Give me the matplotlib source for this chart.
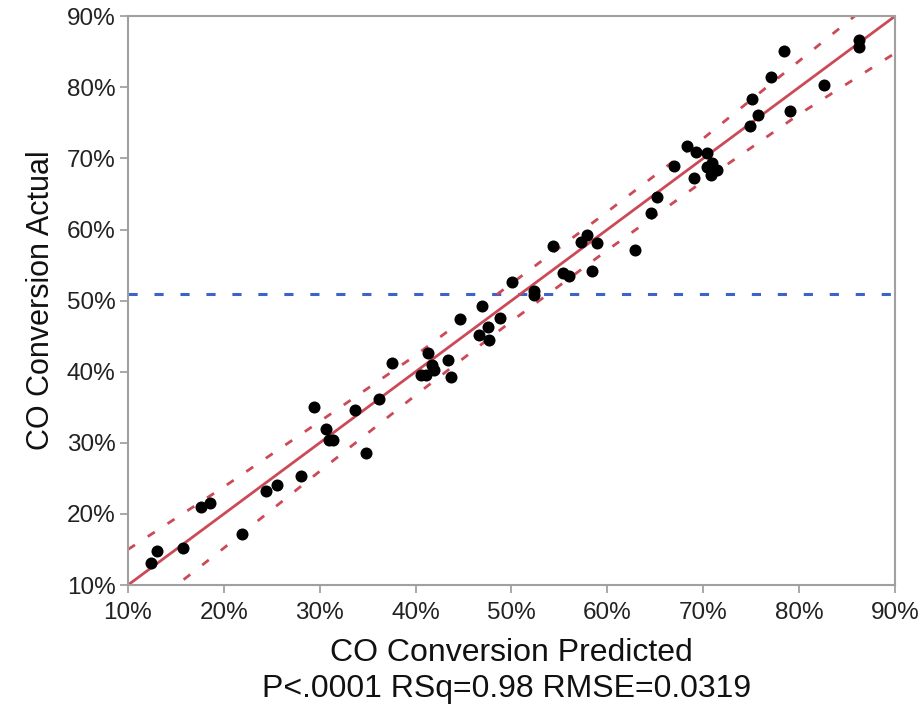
import matplotlib
matplotlib.use("Agg")
import matplotlib.pyplot as plt
from matplotlib.ticker import FuncFormatter

# Points (en %)
predicted = [12.4, 13.0, 15.7, 17.6, 18.6, 21.9, 24.4, 25.5, 28.0, 29.4,
             30.7, 31.0, 31.4, 33.7, 34.8, 36.2, 37.5, 40.6, 41.1, 41.3,
             41.7, 41.9, 43.4, 43.7, 44.6, 46.6, 46.9, 47.6, 47.7, 48.8,
             50.1, 52.3, 52.4, 54.3, 55.4, 56.0, 57.3, 57.9, 58.4, 58.9,
             62.9, 64.6, 65.2, 67.0, 68.3, 69.0, 69.2, 70.4, 70.4, 70.8,
             70.9, 71.4, 74.9, 75.1, 75.7, 77.1, 78.4, 79.0, 82.6, 86.2,
             86.2]
actual = [13.1, 14.8, 15.2, 21.0, 21.5, 17.2, 23.2, 24.1, 25.4, 35.1,
          32.0, 30.4, 30.4, 34.6, 28.6, 36.1, 41.2, 39.6, 39.6, 42.6,
          40.9, 40.2, 41.7, 39.2, 47.4, 45.2, 49.2, 46.3, 44.4, 47.6,
          52.6, 51.3, 50.8, 57.7, 53.9, 53.4, 58.3, 59.2, 54.1, 58.1,
          57.1, 62.3, 64.6, 68.9, 71.8, 67.2, 70.9, 70.8, 68.8, 67.7,
          69.4, 68.3, 74.6, 78.3, 76.1, 81.5, 85.1, 76.7, 80.3, 85.7,
          86.6]

# ligne d'ajustement et bandes de confiance
fit_x = [10, 90]
fit_y = [10, 90]
band_x = [10, 20, 30, 40, 50, 60, 70, 80, 90]
band_upper = [15.0, 23.8, 33.0, 42.3, 52.4, 62.5, 72.8, 83.7, 94.6]
band_lower = [4.6, 15.2, 26.0, 36.7, 47.1, 57.1, 66.8, 76.2, 84.8]
mean_actual = 50.9

stats_text = "P<.0001 RSq=0.98 RMSE=0.0319"

plt.rcParams["font.family"] = ["Liberation Sans", "DejaVu Sans"]

fig = plt.figure(figsize=(9.24, 7.04), dpi=100)
ax = fig.add_axes([0.1385, 0.169, 0.8301, 0.808])

red = "#cc4a57"
ax.axhline(mean_actual, color="#3d62c9", lw=2.2, linestyle=(0, (3, 5.5)), zorder=1)
ax.plot(fit_x, fit_y, color=red, lw=2, zorder=2)
ax.plot(band_x, band_upper, color=red, lw=2, linestyle=(0, (3, 5.5)), zorder=2)
ax.plot(band_x, band_lower, color=red, lw=2, linestyle=(0, (3, 5.5)), zorder=2)
ax.scatter(predicted, actual, s=75, color="black", zorder=3, linewidths=0)

ax.set_xlim(10, 90)
ax.set_ylim(10, 90)
ticks = list(range(10, 91, 10))
ax.set_xticks(ticks)
ax.set_yticks(ticks)
pct = FuncFormatter(lambda v, p: f"{v:.0f}%")
ax.xaxis.set_major_formatter(pct)
ax.yaxis.set_major_formatter(pct)
ax.tick_params(axis="both", labelsize=17.5, colors="#999999", labelcolor="#222222",
               length=6, width=1.2)
ax.tick_params(axis="x", pad=6)
ax.tick_params(axis="y", pad=3)

for s in ax.spines.values():
    s.set_color("#a0a0a0")
    s.set_linewidth(1.5)

ax.set_xlabel("CO Conversion Predicted", fontsize=23, color="#111111", labelpad=10)
ax.set_ylabel("CO Conversion Actual", fontsize=22, color="#111111", labelpad=8)
fig.text(0.548, 0.022, stats_text, fontsize=23, color="#111111", ha="center", va="center")

fig.savefig("out.png", dpi=100)
